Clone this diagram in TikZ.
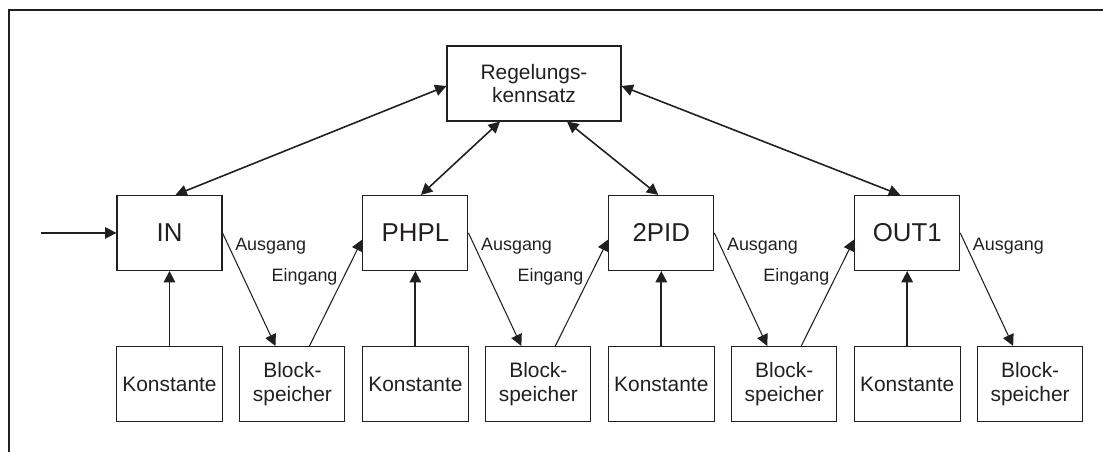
\documentclass[tikz,border=0pt]{standalone}
\usepackage{fontspec}
\setmainfont{Liberation Sans}
\usepackage{tikz}
\usetikzlibrary{positioning,calc,arrows.meta}
\definecolor{ink}{RGB}{35,31,32}
\newcommand{\boxtext}{\fontsize{11.9}{13.2}\selectfont}

\begin{document}
\begin{tikzpicture}[
  node distance=1.5cm and 0.329cm,
  block/.style={rectangle,draw=ink,line width=0.6pt,minimum width=2.1cm,
    minimum height=1.5cm,align=center,font=\boxtext,text=ink},
  fblock/.style={block,font=\fontsize{14.7}{16}\selectfont},
  link/.style={draw=ink,line width=0.6pt,-{Triangle[length=6.5pt,width=6.5pt]}},
  feed/.style={draw=ink,line width=1.1pt,-{Triangle[length=6.5pt,width=6.5pt]}},
  both/.style={draw=ink,line width=0.9pt,{Triangle[length=6.5pt,width=6.5pt]}-{Triangle[length=6.5pt,width=6.5pt]}},
  lbl/.style={font=\fontsize{10.2}{12}\selectfont,text=ink}
]
\useasboundingbox (0,0) rectangle (22.06,9.04);
\draw[ink,line width=1.4pt] (0.18,0) -- (0.18,8.84) -- (22.06,8.84);

% untere Reihe
\node[block] (k1) at (3.39,1.36) {Konstante};
\node[block,right=of k1] (b1) {Block-\\speicher};
\node[block,right=of b1] (k2) {Konstante};
\node[block,right=of k2] (b2) {Block-\\speicher};
\node[block,right=of b2] (k3) {Konstante};
\node[block,right=of k3] (b3) {Block-\\speicher};
\node[block,right=of b3] (k4) {Konstante};
\node[block,right=of k4] (b4) {Block-\\speicher};

% Bausteine
\node[fblock,above=of k1] (inb) {IN};
\node[fblock,above=of k2] (phpl) {PHPL};
\node[fblock,above=of k3] (pid) {2PID};
\node[fblock,above=of k4] (outb) {OUT1};
\node[block,minimum width=3.48cm] (reg) at (10.68,7.37) {Regelungs-\\kennsatz};

\coordinate (start) at ($(inb.west)+(-1.5,0)$);
\draw[link,line width=0.9pt] (start) -- (inb.west);

\draw[feed] (k1.north) -- (inb.south);
\draw[feed] (k2.north) -- (phpl.south);
\draw[feed] (k3.north) -- (pid.south);
\draw[feed] (k4.north) -- (outb.south);

\draw[link] (inb.east) -- node[lbl,pos=0.12,right] {Ausgang} ($(b1.north)+(-0.34,0)$);
\draw[link] ($(b1.north)+(0.34,0)$) -- node[lbl,pos=0.65,left] {Eingang} ($(phpl.west)+(0,-0.13)$);
\draw[link] (phpl.east) -- node[lbl,pos=0.12,right] {Ausgang} ($(b2.north)+(-0.34,0)$);
\draw[link] ($(b2.north)+(0.34,0)$) -- node[lbl,pos=0.65,left] {Eingang} ($(pid.west)+(0,-0.13)$);
\draw[link] (pid.east) -- node[lbl,pos=0.12,right] {Ausgang} ($(b3.north)+(-0.34,0)$);
\draw[link] ($(b3.north)+(0.34,0)$) -- node[lbl,pos=0.65,left] {Eingang} ($(outb.west)+(0,-0.13)$);
\draw[link] (outb.east) -- node[lbl,pos=0.12,right] {Ausgang} ($(b4.north)+(-0.34,0)$);

\draw[both] ($(reg.west)+(0,-0.05)$) -- ($(inb.north)+(0.12,0)$);
\draw[both] ($(reg.south)+(-0.68,0)$) -- ($(phpl.north)+(0.11,0)$);
\draw[both] ($(reg.south)+(0.66,0)$) -- ($(pid.north)+(-0.06,0)$);
\draw[both] ($(reg.east)+(0,-0.05)$) -- ($(outb.north)+(-0.14,0)$);
\end{tikzpicture}
\end{document}
